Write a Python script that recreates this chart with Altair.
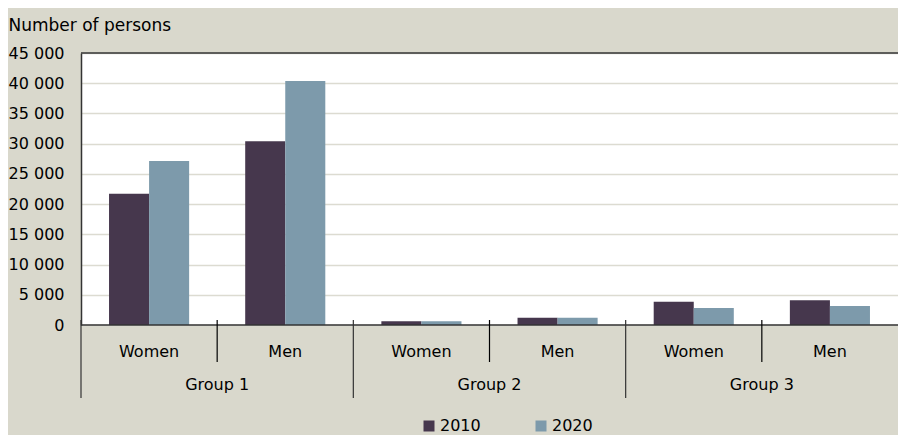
import altair as alt
import pandas as pd

groups = ["Group 1", "Group 1", "Group 2", "Group 2", "Group 3", "Group 3"]
sexes = ["Women", "Men", "Women", "Men", "Women", "Men"]
years = ["2010", "2020"]
values_2010 = [21700, 30400, 620, 1180, 3850, 4100]
values_2020 = [27150, 40350, 640, 1180, 2820, 3150]
y_ticks = [0, 5000, 10000, 15000, 20000, 25000, 30000, 35000, 40000, 45000]
colors = ["#46374d", "#7d9aab"]

FONT = "DejaVu Sans"
W, H = 817, 272

cats = [f"{g}|{s}" for g, s in zip(groups, sexes)]
rows = []
for c, g, s, a, b in zip(cats, groups, sexes, values_2010, values_2020):
    rows.append(dict(cat=c, group=g, sex=s, year=years[0], value=a))
    rows.append(dict(cat=c, group=g, sex=s, year=years[1], value=b))
df = pd.DataFrame(rows)

cat_df = pd.DataFrame({"cat": cats, "group": groups, "sex": sexes})
men_df = cat_df[cat_df["sex"] == "Men"]
women_df = cat_df[cat_df["sex"] == "Women"]
edge_df = pd.DataFrame({"value": [y_ticks[0], y_ticks[-1]]})

xscale = alt.Scale(domain=cats, paddingInner=0, paddingOuter=0)
yscale = alt.Scale(domain=[y_ticks[0], y_ticks[-1]], nice=False)

y_axis = alt.Axis(
    values=y_ticks,
    labelExpr="replace(format(datum.value, ','), ',', ' ')",
    title="Number of persons",
    titleAngle=0,
    titleAlign="left",
    titleBaseline="alphabetic",
    titleX=-73,
    titleY=-23,
    titleFont=FONT,
    titleFontSize=17,
    titleFontWeight="normal",
    titleColor="#000000",
    labelFont=FONT,
    labelFontSize=16,
    labelColor="#000000",
    labelPadding=17,
    ticks=False,
    domain=True,
    domainColor="#333333",
    domainWidth=1.5,
    grid=True,
    gridColor="#dcdbd1",
    gridWidth=1.5,
)

bars = alt.Chart(df).mark_bar().encode(
    x=alt.X("cat:N", scale=xscale, sort=cats, axis=None),
    xOffset=alt.XOffset("year:N", sort=years, scale=alt.Scale(paddingInner=0, paddingOuter=0.70)),
    y=alt.Y("value:Q", scale=yscale, axis=y_axis),
    color=alt.Color(
        "year:N",
        sort=years,
        scale=alt.Scale(domain=years, range=colors),
        legend=alt.Legend(
            title=None,
            orient="none",
            legendX=340,
            legendY=365,
            direction="horizontal",
            symbolType="square",
            symbolSize=121,
            symbolStrokeWidth=0,
            labelFont=FONT,
            labelFontSize=16,
            labelColor="#000000",
            labelOffset=3,
            columnPadding=52,
        ),
    ),
)

edges = alt.Chart(edge_df).mark_rule(color="#333333", strokeWidth=1.5).encode(
    y=alt.Y("value:Q", scale=yscale, axis=y_axis),
)

sub_dividers = alt.Chart(men_df).mark_rule(color="#000000", strokeWidth=1.2).encode(
    x=alt.X("cat:N", scale=xscale, bandPosition=0, axis=None),
    y=alt.value(H - 5),
    y2=alt.value(H + 37),
)

group_dividers = alt.Chart(women_df).mark_rule(color="#333333", strokeWidth=1.2).encode(
    x=alt.X("cat:N", scale=xscale, bandPosition=0, axis=None),
    y=alt.value(H - 5),
    y2=alt.value(H + 73),
)

sub_labels = alt.Chart(cat_df).mark_text(
    font=FONT, fontSize=16, color="#000000", baseline="alphabetic", align="center"
).encode(
    x=alt.X("cat:N", scale=xscale, bandPosition=0.5, axis=None),
    y=alt.value(H + 32),
    text="sex:N",
)

group_labels = alt.Chart(men_df).mark_text(
    font=FONT, fontSize=16, color="#000000", baseline="alphabetic", align="center"
).encode(
    x=alt.X("cat:N", scale=xscale, bandPosition=0, axis=None),
    y=alt.value(H + 65),
    text="group:N",
)

chart = (
    alt.layer(bars, edges, sub_dividers, group_dividers, sub_labels, group_labels)
    .properties(
        width=W,
        height=H,
        background="#d9d8cc",
        autosize=alt.AutoSizeParams(type="none"),
        padding={"left": 73, "top": 45, "right": 0, "bottom": 110},
    )
    .configure_view(fill="white", stroke=None)
)

chart.save("out.html", embed_options={"renderer": "svg", "actions": False})
